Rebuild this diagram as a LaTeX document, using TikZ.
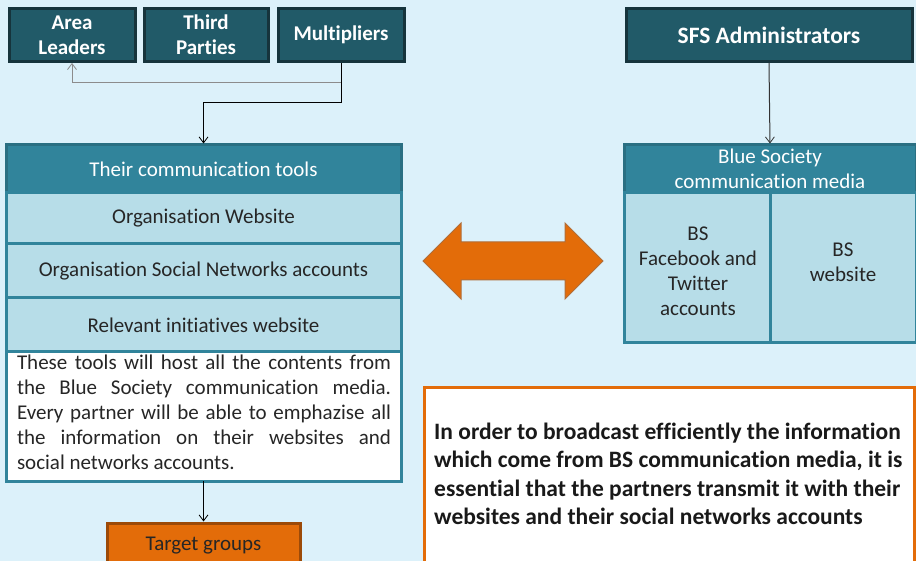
\documentclass[tikz,border=0pt]{standalone}
\usepackage{fontspec}
\setmainfont{Carlito}[Ligatures=CommonOff]
\usetikzlibrary{arrows.meta}
\definecolor{bgblue}{HTML}{DCF1FA}
\definecolor{darkteal}{HTML}{215A68}
\definecolor{darkedge}{HTML}{16343C}
\definecolor{teal}{HTML}{31849B}
\definecolor{tealedge}{HTML}{2A6F82}
\definecolor{lightteal}{HTML}{B7DDE8}
\definecolor{orangefill}{HTML}{E36C09}
\definecolor{orangeedge}{HTML}{9C4A08}
\definecolor{linegray}{HTML}{8C8C8C}
\tikzset{
  darkbox/.style={rectangle, fill=darkteal, draw=darkedge, line width=3pt, inner sep=0pt,
    text=white, align=center, font=\fontsize{21}{25}\selectfont\bfseries},
  headbox/.style={rectangle, fill=teal, draw=tealedge, line width=3pt, inner sep=0pt,
    text=white, align=center, font=\fontsize{21}{25}\selectfont},
  rowbox/.style={rectangle, fill=lightteal, draw=teal, line width=3pt, inner sep=0pt,
    text=black!85, align=center, font=\fontsize{21}{25}\selectfont},
  targetbox/.style={rectangle, fill=orangefill, draw=orangeedge, line width=3pt, inner sep=0pt,
    text=black!85, align=center, font=\fontsize{21}{25}\selectfont},
  link/.style={line width=1pt, -{Straight Barb[length=6pt,width=9pt,line width=0.8pt]}},
}
\begin{document}
\begin{tikzpicture}[x=1pt,y=-1pt]
\fill[bgblue] (0,0) rectangle (916,561);
\useasboundingbox (0,0) rectangle (916,561);

% top row of actors
\node[darkbox, minimum width=126, minimum height=53] (area) at (72,35) {Area\\Leaders};
\node[darkbox, minimum width=124, minimum height=53] (third) at (206,35) {Third\\Parties};
\node[darkbox, minimum width=126, minimum height=53] (mult) at (341,35) {Multipliers};
\node[darkbox, minimum width=286, minimum height=53, font=\fontsize{23.5}{25}\selectfont\bfseries] (sfs) at (769,35) {SFS Administrators};

% partners' communication tools
\draw[teal, line width=3pt, fill=white] (6,145) rectangle (401,481);
\node[headbox, minimum width=395, minimum height=48] (tools) at (203.5,169) {Their communication tools};
\node[rowbox, minimum width=395, minimum height=51] (web) at (203.5,218.5) {Organisation Website};
\node[rowbox, minimum width=395, minimum height=54] (social) at (203.5,271) {Organisation Social Networks accounts};
\node[rowbox, minimum width=395, minimum height=54] (init) at (203.5,325) {Relevant initiatives website};
\node[anchor=north, inner sep=0pt, text width=374, align=justify, text=black!85,
  font=\fontsize{21}{25}\selectfont] (note) at (204,355)
  {These tools will host all the contents from\linebreak the Blue Society communication media.\linebreak Every partner will be able to emphazise all\linebreak the information on their websites and\linebreak social networks accounts.};
\coordinate (toolsbottom) at (203.5,481);

\node[targetbox, minimum width=193, minimum height=46] (target) at (203.5,546) {Target groups};

% Blue Society media
\node[headbox, minimum width=292, minimum height=48] (bs) at (770,169) {Blue Society\\communication media};
\node[rowbox, minimum width=146, minimum height=150] (fb) at (697,268) {};
\node[rowbox, minimum width=146, minimum height=150] (bsweb) at (843,268) {};
\node[align=center, text=black!85, font=\fontsize{21}{25}\selectfont, inner sep=0pt] (fbtext) at (698,271) {BS\\Facebook and\\Twitter\\accounts};
\node[align=center, text=black!85, font=\fontsize{21}{25}\selectfont, inner sep=0pt] (bswebtext) at (843,262) {BS\\website};

% two-way exchange arrow
\fill[orangefill, draw=orangeedge!80, line width=1pt]
  (423,261) -- (461,223) -- (461,242) -- (565,242) -- (565,223) -- (603,261)
  -- (565,299) -- (565,280) -- (461,280) -- (461,299) -- cycle;

% key message
\node[rectangle, draw=orangefill, fill=white, line width=3pt, minimum width=490, minimum height=180,
  anchor=north west, inner sep=0pt] (msgbox) at (423,386) {};
\node[anchor=west, inner sep=0pt, align=left, text=black!90,
  font=\fontsize{23.5}{28.5}\selectfont\bfseries] (msg) at (434,474)
  {In order to broadcast efficiently the information\\which come from BS communication media, it is\\essential that the partners transmit it with their\\websites and their social networks accounts};

% connectors
\coordinate (m1) at (341,83);
\coordinate (a1) at (72,83);
\coordinate (m2) at (341,103);
\coordinate (t1) at (203.5,103);
\draw[link, linegray] (mult.south) -- (m1) -- (a1) -- (area.south);
\draw[link, black] (mult.south) -- (m2) -- (t1) -- (tools.north);
\draw[link, black!80] (sfs.south) -- (bs.north);
\draw[link, black] (toolsbottom) -- (target.north);
\end{tikzpicture}
\end{document}
